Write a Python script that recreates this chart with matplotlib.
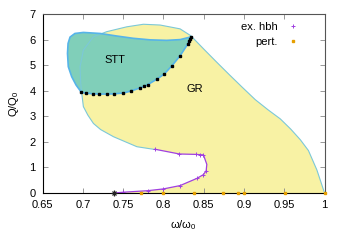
import matplotlib
matplotlib.use("Agg")
import matplotlib.pyplot as plt

plt.rcParams["font.family"] = ["Liberation Sans", "DejaVu Sans"]
plt.rcParams["mathtext.fontset"] = "custom"
plt.rcParams["mathtext.rm"] = "Liberation Sans"
plt.rcParams["mathtext.it"] = "Liberation Sans:italic"

# GR region outer boundary (from upper purple branch, around, to (1,0))
gr_omega = [0.7896, 0.767, 0.738, 0.722, 0.713, 0.706, 0.7005, 0.6985, 0.6972, 0.6964, 0.7005, 0.7129,
            0.7295, 0.7544, 0.775, 0.7958, 0.8124, 0.8206, 0.834, 0.850, 0.866, 0.882, 0.898,
            0.914, 0.930, 0.945, 0.958, 0.970, 0.980, 0.9905, 1.0]
gr_q = [1.70, 1.81, 2.20, 2.48, 2.72, 3.05, 3.38, 3.90, 4.29, 4.94, 5.59, 6.11,
        6.31, 6.50, 6.60, 6.57, 6.47, 6.42, 6.15, 5.63, 5.12, 4.62, 4.13,
        3.65, 3.25, 2.90, 2.50, 2.08, 1.66, 0.90, 0.0]

# ex. hbh curve
hbh_omega = [0.7896, 0.8198, 0.840, 0.8455, 0.8496, 0.8538, 0.853, 0.8496, 0.8414, 0.8206,
             0.800, 0.7805, 0.750, 0.739]
hbh_q = [1.71, 1.525, 1.51, 1.50, 1.49, 1.12, 0.87, 0.72, 0.57, 0.29,
         0.16, 0.09, 0.03, 0.0]
hbh_marked = [True, True, True, True, True, False, True, True, True, True,
              True, True, True, False]

# STT lower boundary (black squares)
stt_low_omega = [0.698, 0.7038, 0.7129, 0.7204, 0.7295, 0.739, 0.7502, 0.7597, 0.771,
                 0.7763, 0.7805, 0.7917, 0.8008, 0.8103, 0.8207, 0.8302, 0.8314, 0.8331, 0.8347]
stt_low_q = [3.94, 3.90, 3.88, 3.87, 3.87, 3.88, 3.91, 3.99, 4.11,
             4.18, 4.24, 4.45, 4.65, 4.97, 5.37, 5.83, 5.95, 6.02, 6.11]

# STT upper boundary (from corner back to left)
stt_up_omega = [0.8347, 0.8207, 0.804, 0.7834, 0.7626, 0.742, 0.7212, 0.7005, 0.690,
                0.6840, 0.6815, 0.6808, 0.6818, 0.686, 0.6915, 0.698]
stt_up_q = [6.11, 6.00, 5.97, 5.99, 6.05, 6.14, 6.24, 6.28, 6.24,
            6.10, 5.85, 5.46, 4.94, 4.55, 4.22, 3.94]

# perturbative points
pert_omega = [0.7718, 0.799, 0.838, 0.8737, 0.892, 0.900, 0.9508, 1.0]
pert_q = [0, 0, 0, 0, 0, 0, 0, 0]

star_omega = [0.739]
star_q = [0.0]

x_ticks = [0.65, 0.7, 0.75, 0.8, 0.85, 0.9, 0.95, 1.0]
x_ticklabels = ["0.65", "0.7", "0.75", "0.8", "0.85", "0.9", "0.95", "1"]
y_ticks = [0, 1, 2, 3, 4, 5, 6, 7]

yellow = "#F8F2A4"
green = "#80CFB9"
edge_blue = "#56B4E9"
gr_edge = "#7CC8D8"
purple = "#A040E0"
orange = "#E69F00"

fig = plt.figure(figsize=(3.46, 2.42), dpi=100)
ax = fig.add_axes([0.1234, 0.2025, 0.8146, 0.7395])

# GR fill polygon: outer boundary + hbh curve back along to the axis
poly_x = list(gr_omega) + list(hbh_omega[::-1])
poly_y = list(gr_q) + list(hbh_q[::-1])
ax.fill(poly_x, poly_y, color=yellow, lw=0, zorder=1)

# STT fill
stt_x = stt_low_omega + stt_up_omega[1:]
stt_y = stt_low_q + stt_up_q[1:]
ax.fill(stt_x, stt_y, color=green, lw=0, zorder=2)

# outlines
ax.plot(gr_omega, gr_q, color=gr_edge, lw=0.8, zorder=3)
ax.plot(stt_x, stt_y, color=edge_blue, lw=1.2, zorder=4)
ax.plot(stt_low_omega, stt_low_q, ls="none", marker="s", ms=1.9, color="black", zorder=6)

# hbh
ax.plot(hbh_omega, hbh_q, color=purple, lw=0.9, zorder=5)
mx = [o for o, m in zip(hbh_omega, hbh_marked) if m]
my = [q for q, m in zip(hbh_q, hbh_marked) if m]
ax.plot(mx, my, ls="none", marker="+", ms=3.5, mew=0.7, color=purple, zorder=6, label="ex. hbh")
ax.plot(pert_omega, pert_q, ls="none", marker="s", ms=1.9, color=orange, zorder=7,
        clip_on=False, label="pert.")
ax.plot(star_omega, star_q, ls="none", marker="+", ms=4.5, mew=0.9, color="#222222", zorder=8, clip_on=False)
ax.plot(star_omega, star_q, ls="none", marker="x", ms=3.5, mew=0.9, color="#222222", zorder=8, clip_on=False)

ax.text(0.7395, 5.2, "STT", fontsize=8, ha="center", va="center", zorder=9)
ax.text(0.8395, 4.08, "GR", fontsize=8, ha="center", va="center", zorder=9)

ax.set_xlim(0.65, 1.0)
ax.set_ylim(0, 7)
ax.set_xticks(x_ticks)
ax.set_xticklabels(x_ticklabels)
ax.set_yticks(y_ticks)
ax.tick_params(direction="in", length=3.5, width=0.6, color="#888888",
               top=True, right=True, labelsize=8)
ax.tick_params(axis="x", pad=5)
ax.tick_params(axis="y", pad=5)
for s in ax.spines.values():
    s.set_color("#555555")
    s.set_linewidth(0.8)
ax.spines["bottom"].set_color("black")
ax.spines["left"].set_color("black")
ax.spines["bottom"].set_zorder(6)

ax.set_xlabel(r"ω/ω$_0$", fontsize=8, labelpad=6)
ax.set_ylabel(r"Q/Q$_0$", fontsize=8, labelpad=6)

leg = ax.legend(loc="upper right", bbox_to_anchor=(0.94, 1.0), markerfirst=False,
                frameon=False, fontsize=8, handlelength=1.2, handletextpad=0.8,
                borderaxespad=0.3, labelspacing=0.45)

fig.savefig("out.png", dpi=100)
